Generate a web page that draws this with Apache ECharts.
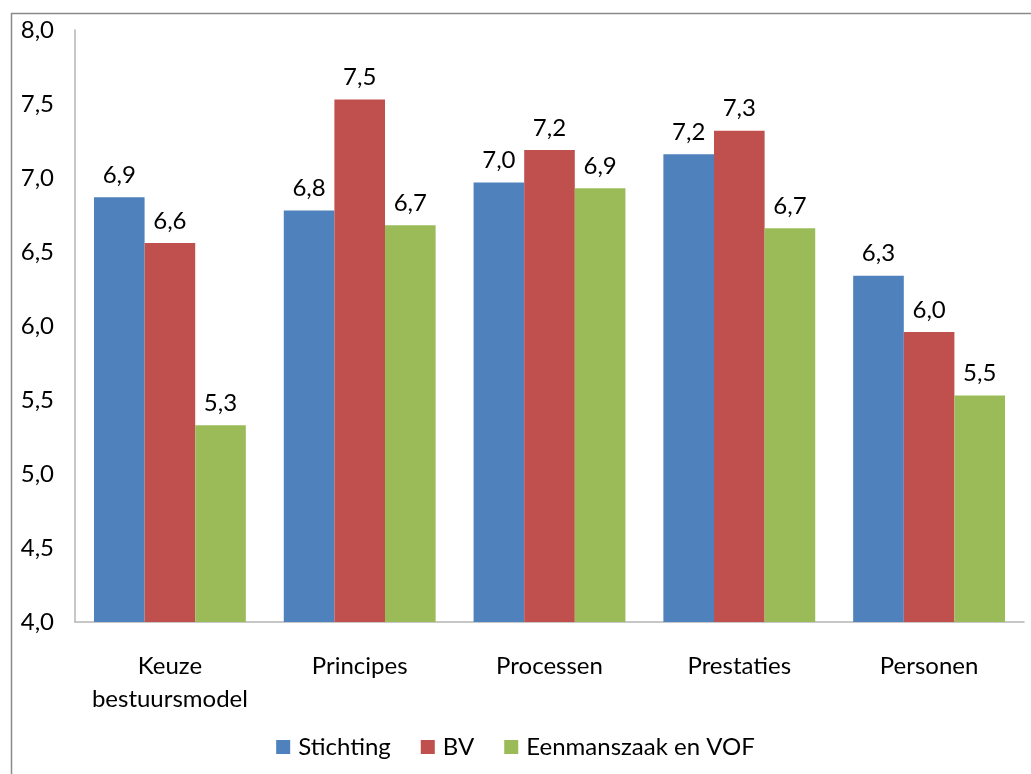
<!DOCTYPE html>
<html>
<head>
<meta charset="utf-8">
<script src="https://cdn.jsdelivr.net/npm/echarts@6/dist/echarts.min.js"></script>
<style>
  html, body { margin: 0; padding: 0; background: #ffffff; }
  #chart { width: 1031px; height: 774px; }
</style>
</head>
<body>
<div id="chart"></div>
<script>
// Average scores per theme, by legal form
const categories = ['Keuze\nbestuursmodel', 'Principes', 'Processen', 'Prestaties', 'Personen'];
const seriesNames = ['Stichting', 'BV', 'Eenmanszaak en VOF'];
const stichting = [6.87, 6.78, 6.97, 7.16, 6.34];
const bv = [6.56, 7.53, 7.19, 7.32, 5.96];
const eenmanszaak = [5.33, 6.68, 6.93, 6.66, 5.53];
const yMin = 4.0;
const yMax = 8.0;
const yStep = 0.5;

const colors = ['#4F81BD', '#C0504D', '#9BBB59'];
const FONT = 'Lato';
const comma = v => Number(v).toFixed(1).replace('.', ',');

const chart = echarts.init(document.getElementById('chart'), null, { renderer: 'canvas' });

function barSeries(name, data, color) {
  return {
    name: name,
    type: 'bar',
    data: data,
    barGap: '0%',
    barCategoryGap: '20%',
    itemStyle: { color: color },
    label: {
      show: true,
      position: 'top',
      distance: 10,
      color: '#000000',
      fontFamily: FONT,
      fontSize: 24,
      formatter: p => comma(p.value)
    },
    emphasis: { disabled: true }
  };
}

chart.setOption({
  animation: false,
  color: colors,
  textStyle: { fontFamily: FONT },
  graphic: [{
    type: 'rect',
    silent: true,
    shape: { x: 11.5, y: 13.5, width: 1100, height: 900 },
    style: { fill: 'none', stroke: '#8a8a8a', lineWidth: 1.5 }
  }],
  grid: { left: 75, right: 7, top: 30, bottom: 152, containLabel: false },
  legend: {
    data: seriesNames,
    bottom: 10,
    left: 'center',
    icon: 'rect',
    itemWidth: 14,
    itemHeight: 14,
    itemGap: 30,
    textStyle: { fontFamily: FONT, fontSize: 24, color: '#000000', padding: [2, 0, 0, 3] }
  },
  xAxis: {
    type: 'category',
    data: categories,
    axisLine: { show: true, lineStyle: { color: '#b5b5b5', width: 1.5 } },
    axisTick: { show: false },
    axisLabel: {
      fontFamily: FONT,
      fontSize: 24,
      color: '#000000',
      lineHeight: 33,
      margin: 28,
      interval: 0
    },
    splitLine: { show: false }
  },
  yAxis: {
    type: 'value',
    min: yMin,
    max: yMax,
    interval: yStep,
    axisLine: { show: true, lineStyle: { color: '#b5b5b5', width: 1.5 } },
    axisTick: { show: false },
    splitLine: { show: false },
    axisLabel: {
      fontFamily: FONT,
      fontSize: 24,
      color: '#000000',
      margin: 21,
      padding: [9, 0, 0, 0],
      formatter: v => comma(v)
    }
  },
  series: [
    barSeries(seriesNames[0], stichting, colors[0]),
    barSeries(seriesNames[1], bv, colors[1]),
    barSeries(seriesNames[2], eenmanszaak, colors[2])
  ]
});
</script>
</body>
</html>
